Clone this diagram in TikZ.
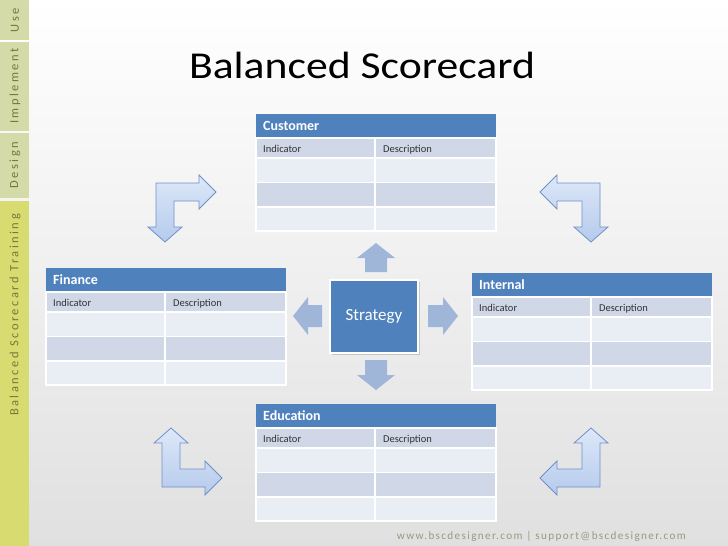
\documentclass[tikz,border=0pt]{standalone}
\usepackage{graphicx}
\usepackage{fontspec}
\setmainfont{Carlito}
\newfontfamily\sidefont[LetterSpace=20]{Carlito}
\newfontfamily\footfont[LetterSpace=12]{Carlito}
\usetikzlibrary{shadows}
\definecolor{bscblue}{HTML}{4F81BD}
\definecolor{rowdark}{HTML}{D0D8E8}
\definecolor{rowlight}{HTML}{E9EDF4}
\definecolor{paleblue}{HTML}{A0B6D8}
\definecolor{bentlight}{HTML}{DDE8F9}
\definecolor{bentdark}{HTML}{B5CAEC}
\definecolor{bentline}{HTML}{7090C8}
\definecolor{sidegreen}{HTML}{D4DBA8}
\definecolor{sideyellow}{HTML}{D8DC70}
\definecolor{sidetext}{HTML}{767838}
\definecolor{foottext}{HTML}{9A9A7C}
\definecolor{bgbottom}{HTML}{E0E0E0}
\tikzset{
  headtext/.style={anchor=base west, inner sep=0pt, text=white, font=\bfseries\fontsize{14}{16}\selectfont},
  celltext/.style={anchor=base west, inner sep=0pt, text=black!80, font=\fontsize{10.5}{12}\selectfont},
  sidelabel/.style={rotate=90, inner sep=0pt, text=sidetext, font=\sidefont\fontsize{12.5}{14}\selectfont},
  bentarrow/.style={top color=bentlight, bottom color=bentdark, draw=bentline, line width=0.8pt, line join=miter},
  smallarrow/.style={fill=paleblue},
}

\begin{document}
\begin{tikzpicture}[x=1pt, y=-1pt]
  % slide background
  \shade[top color=white, bottom color=bgbottom] (0,0) rectangle (728,546);
  \useasboundingbox (0,0) rectangle (728,546);
  % side bar (left)
  \fill[sidegreen] (0,0) rectangle (29,40);
  \fill[sidegreen] (0,42) rectangle (29,131);
  \fill[sidegreen] (0,133) rectangle (29,198);
  \fill[sideyellow] (0,201) rectangle (29,546);
  \node[sidelabel] (use) at (15,20) {Use};
  \node[sidelabel] (implement) at (15,86) {Implement};
  \node[sidelabel] (design) at (15,165) {Design};
  \node[sidelabel] (training) at (15,315) {Balanced Scorecard Training};
  % title
  \node[anchor=base, inner sep=0pt, font=\fontsize{38}{44}\selectfont] (title) at (362,78)
    {\scalebox{1.15}[1]{Balanced Scorecard}};
  % perspective tables
  \foreach \tname/\tx/\ty in {Customer/256/114, Finance/46/268, Internal/472/273, Education/256/404} {
    \begin{scope}[shift={(\tx,\ty)}]
      \fill[bscblue] (0,0) rectangle (240,23);
      \node[headtext] (\tname-head) at (7,16.5) {\tname};
      \foreach \top/\bot/\col in {24/44/rowdark, 44/68.5/rowlight, 68.5/93/rowdark, 93/117/rowlight} {
        \filldraw[fill=\col, draw=white, line width=1.2pt] (0,\top) rectangle (119,\bot);
        \filldraw[fill=\col, draw=white, line width=1.2pt] (119,\top) rectangle (240,\bot);
      }
      \node[celltext] (\tname-ind) at (7,38) {Indicator};
      \node[celltext] (\tname-desc) at (127,38) {Description};
    \end{scope}
  }
  % strategy box (centre)
  \node[fill=bscblue, draw=white, line width=2pt, minimum width=88pt, minimum height=73pt,
        text=white, font=\fontsize{17}{19}\selectfont,
        drop shadow={opacity=0.35, shadow xshift=1.5pt, shadow yshift=-1.5pt}] (strategy) at (374,316.5) {Strategy};
  % small arrows round the strategy box
  \fill[smallarrow] (365,272) -- (365,258) -- (357,258) -- (376,243) -- (395,258) -- (387,258) -- (387,272) -- cycle;
  \fill[smallarrow] (365,360) -- (365,375) -- (357,375) -- (376,390) -- (395,375) -- (387,375) -- (387,360) -- cycle;
  \fill[smallarrow] (322,305) -- (308,305) -- (308,297) -- (293,316) -- (308,335) -- (308,327) -- (322,327) -- cycle;
  \fill[smallarrow] (428,305) -- (443,305) -- (443,297) -- (458,316) -- (443,335) -- (443,327) -- (428,327) -- cycle;
  % bent arrows in the corners
  \foreach \cx/\cy/\sx/\sy in {156/183/1/1, 600/183/-1/1, 162/487/1/-1, 600/487/-1/-1} {
    \begin{scope}[shift={(\cx,\cy)}, xscale=\sx, yscale=\sy]
      \path[bentarrow] (0,0) -- (43,0) -- (43,-8) -- (60,9) -- (43,26) -- (43,18) -- (18,18)
        -- (18,44) -- (26,44) -- (9,59) -- (-8,44) -- (0,44) -- cycle;
    \end{scope}
  }
  % footer
  \node[anchor=base east, inner sep=0pt, text=foottext, font=\footfont\fontsize{11.2}{13}\selectfont] (footer) at (686,539)
    {www.bscdesigner.com | support@bscdesigner.com};
\end{tikzpicture}
\end{document}
